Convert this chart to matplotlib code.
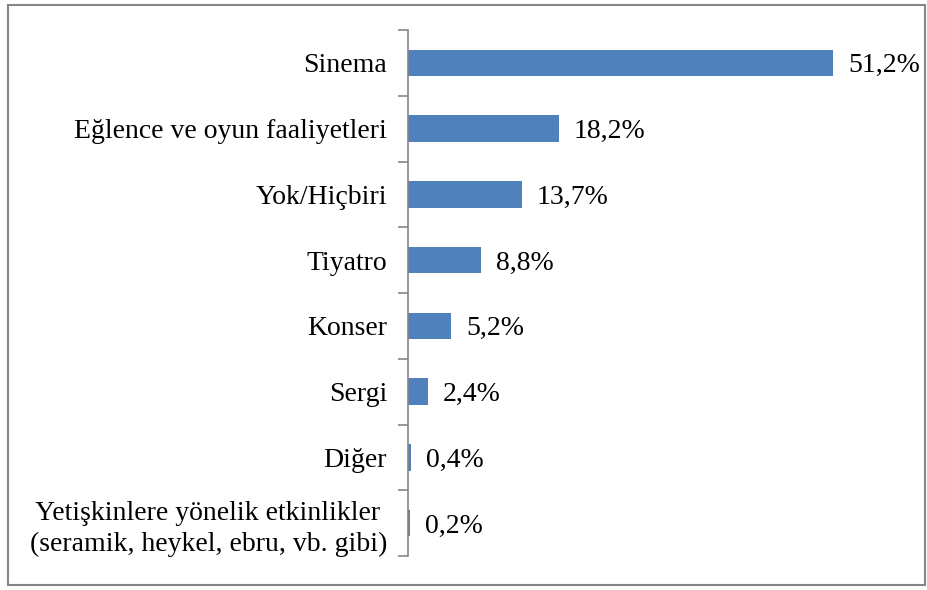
import matplotlib.pyplot as plt
from matplotlib.patches import Rectangle
import numpy as np

categories = [
    "Sinema",
    "Eğlence ve oyun faaliyetleri",
    "Yok/Hiçbiri",
    "Tiyatro",
    "Konser",
    "Sergi",
    "Diğer",
    "Yetişkinlere yönelik etkinlikler \n(seramik, heykel, ebru, vb. gibi)",
]
values = [51.2, 18.2, 13.7, 8.8, 5.2, 2.4, 0.4, 0.2]
value_labels = ["51,2%", "18,2%", "13,7%", "8,8%", "5,2%", "2,4%", "0,4%", "0,2%"]

plt.rcParams["font.family"] = ["Liberation Serif", "DejaVu Serif"]

fig = plt.figure(figsize=(9.28, 5.9), dpi=100)
ax = fig.add_axes([408 / 928, 34 / 590, 498 / 928, 526 / 590])

y = np.arange(len(categories))
ax.barh(y, values, height=0.4, color="#4F81BD")
ax.set_ylim(len(categories) - 0.5, -0.5)
ax.set_xlim(0, 60)

for yi, v, lab in zip(y, values, value_labels):
    ax.text(v + 1.8, yi, lab, va="center_baseline", ha="left", fontsize=20)

ax.set_yticks(y)
ax.set_yticklabels(categories, fontsize=20, linespacing=1.3)
ax.tick_params(axis="y", which="major", length=0, pad=15)
ax.set_yticks(np.arange(len(categories) + 1) - 0.5, minor=True)
ax.tick_params(axis="y", which="minor", length=7, color="#868686", width=1.2)
ax.set_xticks([])

for s in ["top", "right", "bottom"]:
    ax.spines[s].set_visible(False)
ax.spines["left"].set_color("#868686")
ax.spines["left"].set_linewidth(1.2)

fig.patches.append(Rectangle((8 / 928, 5 / 590), 917 / 928, 580 / 590,
                             transform=fig.transFigure, fill=False,
                             edgecolor="#868686", linewidth=1.5))

fig.savefig("out.png", dpi=100)
